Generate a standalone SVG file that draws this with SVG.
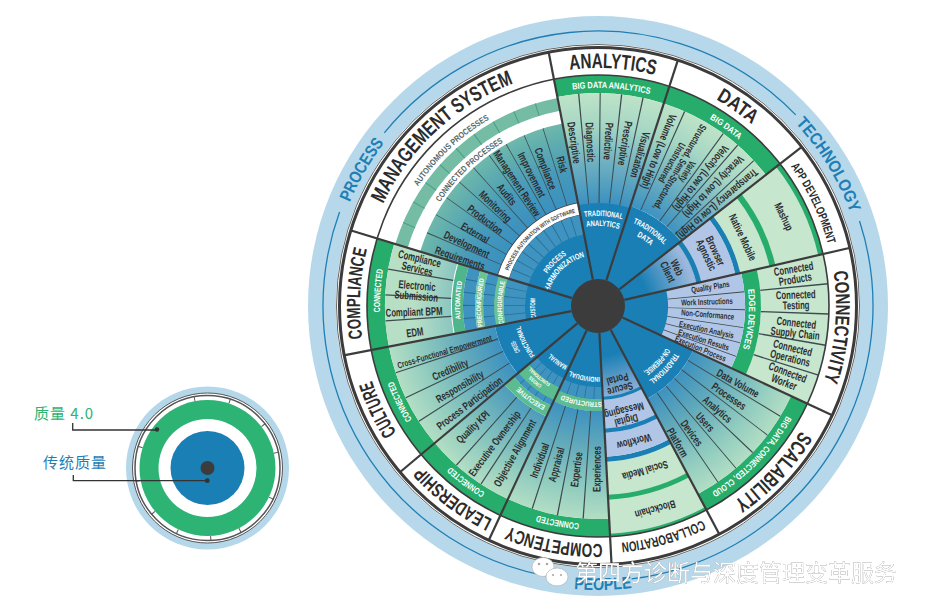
<svg xmlns="http://www.w3.org/2000/svg" width="926" height="614" viewBox="0 0 926 614">
<style>
text{font-family:"Liberation Sans",sans-serif;font-weight:700}
.s{fill:none}
.t{fill:none;stroke:#3d4b50}
.ti{fill:none;stroke:#2a6f93}
.n{font-size:11px;fill:#2d2d2d;text-anchor:middle}
.b{font-size:11.500px;fill:#2d2d2d;text-anchor:middle}
.m{font-size:8.500px;fill:#2d2d2d;text-anchor:middle}
.o{fill:#2b2b2b;text-anchor:middle}
.g{font-size:9px;fill:#fff;text-anchor:middle}
.w{font-size:8px;fill:#fff;text-anchor:middle}
.x{font-size:7px;fill:#fff;text-anchor:middle}
.p{font-size:17px;fill:#1f7fb5;text-anchor:middle}
.q{font-size:8.500px;fill:#56686b;text-anchor:middle}
.cjk{font-family:"Noto Sans CJK SC",sans-serif;font-weight:400}
.spoke{stroke:#3c3c3c;stroke-width:2.200;fill:none}
.lead{stroke:#333;stroke-width:1.300;fill:none}
</style>
<defs>
<radialGradient id="gA" gradientUnits="userSpaceOnUse" cx="0" cy="0" r="231"><stop offset=".45" stop-color="#3d92c1"/><stop offset=".62" stop-color="#6fb0c0"/><stop offset=".78" stop-color="#a5d6c4"/><stop offset=".93" stop-color="#bfe4c8"/></radialGradient>
<radialGradient id="gM" gradientUnits="userSpaceOnUse" cx="0" cy="0" r="231"><stop offset=".45" stop-color="#3a90c0"/><stop offset=".6" stop-color="#479ab9"/><stop offset=".8" stop-color="#6db7ab"/></radialGradient>
<radialGradient id="gL" gradientUnits="userSpaceOnUse" cx="0" cy="0" r="231"><stop offset=".45" stop-color="#3c91c0"/><stop offset=".6" stop-color="#5fa8bb"/><stop offset=".8" stop-color="#93cdbf"/><stop offset=".93" stop-color="#b5dfc5"/></radialGradient>
<radialGradient id="gC" gradientUnits="userSpaceOnUse" cx="0" cy="0" r="231"><stop offset=".64" stop-color="#8cc7c0"/><stop offset=".8" stop-color="#b7dfc5"/></radialGradient>
<radialGradient id="gP" gradientUnits="userSpaceOnUse" cx="0" cy="0" r="101"><stop offset=".5" stop-color="#1a7fb5"/><stop offset=".97" stop-color="#9db8dc"/></radialGradient>
<path id="r284" d="M0-284A284 284 0 1 0 0 284A284 284 0 1 0 0-284"/>
<path id="r269" d="M0 269A269 269 0 1 1 0-269A269 269 0 1 1 0 269"/>
<path id="r238" d="M0 238A238 238 0 1 1 0-238A238 238 0 1 1 0 238"/>
<path id="r218" d="M0 218A218 218 0 1 1 0-218A218 218 0 1 1 0 218"/>
<path id="r216" d="M0 216A216 216 0 1 1 0-216A216 216 0 1 1 0 216"/>
<path id="r189" d="M0 189A189 189 0 1 1 0-189A189 189 0 1 1 0 189"/>
<path id="r151" d="M0 151A151 151 0 1 1 0-151A151 151 0 1 1 0 151"/>
<path id="r138" d="M0 138A138 138 0 1 1 0-138A138 138 0 1 1 0 138"/>
<path id="r117" d="M0 117A117 117 0 1 1 0-117A117 117 0 1 1 0 117"/>
<path id="r113" d="M0 113A113 113 0 1 1 0-113A113 113 0 1 1 0 113"/>
<path id="r97" d="M0 97A97 97 0 1 1 0-97A97 97 0 1 1 0 97"/>
<path id="r96" d="M0 96A96 96 0 1 1 0-96A96 96 0 1 1 0 96"/>
<path id="r91" d="M0 91A91 91 0 1 1 0-91A91 91 0 1 1 0 91"/>
<path id="r90" d="M0 90A90 90 0 1 1 0-90A90 90 0 1 1 0 90"/>
<path id="r80" d="M0 80A80 80 0 1 1 0-80A80 80 0 1 1 0 80"/>
<path id="r71" d="M0 71A71 71 0 1 1 0-71A71 71 0 1 1 0 71"/>
<path id="r67" d="M0 67A67 67 0 1 1 0-67A67 67 0 1 1 0 67"/>
<path id="r63" d="M0 63A63 63 0 1 1 0-63A63 63 0 1 1 0 63"/>
<path id="r60" d="M0 60A60 60 0 1 1 0-60A60 60 0 1 1 0 60"/>
<path id="r51" d="M0 51A51 51 0 1 1 0-51A51 51 0 1 1 0 51"/>
</defs>

<rect width="926" height="614" fill="#fff"/>

<g id="legend-wheel" transform="translate(207.500 468)">
<circle r="81.500" fill="#b5d7ea"/>
<circle r="75" fill="#fff" stroke="#555" stroke-width="1"/>
<circle r="72.500" class="s" stroke="#555" stroke-width="1.500"/>
<circle r="70.500" class="s" stroke="#555" stroke-width="5" pathLength="360" stroke-dasharray=".8 28.200 .8 33.200 .8 24.200 .8 37.200 .8 36.200 .8 24.200 .8 27.200 .8 24.200 .8 28.200 .8 27.200 .8 360" transform="rotate(-101)"/>
<circle r="68" fill="#2db374"/>
<circle r="49" fill="#fff"/>
<circle r="37" fill="#1a7fb5"/>
<circle r="7" fill="#3c3c3c"/>
</g>
<g id="legend-labels">
<text x="34" y="419" class="cjk" font-size="15" fill="#2db374" letter-spacing="1">质量 4.0</text>
<text x="43" y="468" class="cjk" font-size="15" fill="#1f7fb5" letter-spacing="1">传统质量</text>
</g>

<g transform="translate(598 306)">
<g id="frame">
<circle r="290" fill="#b7d8ea"/>
<circle r="262" fill="#fff"/>
<circle r="275" class="s" stroke="#1f7fb5" stroke-width="1.300" pathLength="360" stroke-dasharray="97 263" transform="rotate(219)"/>
<circle r="275" class="s" stroke="#1f7fb5" stroke-width="1.300" pathLength="360" stroke-dasharray="101 259" transform="rotate(-18)"/>
<circle r="275" class="s" stroke="#1f7fb5" stroke-width="1.300" pathLength="360" stroke-dasharray="99 261" transform="rotate(101)"/>
<text class="p" transform="rotate(300)"><textPath href="#r269" startOffset="50%" textLength="69" lengthAdjust="spacingAndGlyphs">PROCESS</textPath></text>
<text class="p" transform="rotate(58.500)"><textPath href="#r269" startOffset="50%" textLength="106" lengthAdjust="spacingAndGlyphs">TECHNOLOGY</textPath></text>
<text class="p" transform="rotate(-1)"><textPath href="#r284" startOffset="50%" textLength="58" lengthAdjust="spacingAndGlyphs">PEOPLE</textPath></text>
<circle r="105" fill="#1a7fb5"/>
</g>

<g id="analytics">
<circle class="s" r="222" stroke="#27ad6b" stroke-width="18" pathLength="360" stroke-dasharray="29 331" transform="rotate(-101)"/>
<circle class="s" r="158" stroke="url(#gA)" stroke-width="110" pathLength="360" stroke-dasharray="29 331" transform="rotate(-101)"/>
<circle class="t" r="158" stroke-width="110" pathLength="360" stroke-dasharray="0 5.600 .4 5.400 .4 5.400 .4 5.400 .4 360" transform="rotate(-101)"/>
<text class="o" font-size="21" transform="rotate(3.500)"><textPath href="#r238" startOffset="50%" textLength="86" lengthAdjust="spacingAndGlyphs">ANALYTICS</textPath></text>
<text class="g" transform="rotate(3.500)"><textPath href="#r218" startOffset="50%" textLength="78" lengthAdjust="spacingAndGlyphs">BIG DATA ANALYTICS</textPath></text>
<text class="n" y="3.500" transform="rotate(-8.400) translate(0 -165) rotate(90) scale(.71 1)">Descriptive</text>
<text class="n" y="3.500" transform="rotate(-2.800) translate(0 -164) rotate(90) scale(.71 1)">Diagnostic</text>
<text class="n" y="3.500" transform="rotate(3.500) translate(0 -165) rotate(90) scale(.71 1)">Predictive</text>
<text class="n" y="3.500" transform="rotate(9.400) translate(0 -165) rotate(90) scale(.71 1)">Prescriptive</text>
<text class="n" y="3.500" transform="rotate(15.500) translate(0 -157) rotate(90) scale(.71 1)">Visualization</text>
<text class="w" transform="rotate(3.500)"><textPath href="#r90" startOffset="50%" textLength="38" lengthAdjust="spacingAndGlyphs">TRADITIONAL</textPath></text>
<text class="w" transform="rotate(3.500)"><textPath href="#r80" startOffset="50%" textLength="33" lengthAdjust="spacingAndGlyphs">ANALYTICS</textPath></text>
</g>

<g id="data">
<circle class="s" r="222" stroke="#27ad6b" stroke-width="18" pathLength="360" stroke-dasharray="34 326" transform="rotate(-72)"/>
<circle class="s" r="159" stroke="url(#gA)" stroke-width="108" pathLength="360" stroke-dasharray="34 326" transform="rotate(-72)"/>
<circle class="t" r="159" stroke-width="108" pathLength="360" stroke-dasharray="0 5.800 .4 11.600 .4 4.600 .4 5.600 .4 360" transform="rotate(-72)"/>
<text class="o" font-size="20" transform="rotate(35)"><textPath href="#r238" startOffset="50%" textLength="44" lengthAdjust="spacingAndGlyphs">DATA</textPath></text>
<text class="g" transform="rotate(35.500)"><textPath href="#r218" startOffset="50%" textLength="36" lengthAdjust="spacingAndGlyphs">BIG DATA</textPath></text>
<text class="n" y="3.500" transform="rotate(21.400) translate(0 -166) rotate(90) scale(.71 1)">Volume (Low to High)</text>
<text class="n" style="font-size:10px" transform="rotate(30) translate(0 -161) rotate(90) scale(.71 1)"><tspan x="0" y="-7">Variety</tspan><tspan x="0" y="2">Structured, Semi-Structured,</tspan><tspan x="0" y="11">Unstructured</tspan></text>
<text class="n" y="3.500" transform="rotate(38.800) translate(0 -164) rotate(90) scale(.71 1)">Velocity (Low to High)</text>
<text class="n" y="3.500" transform="rotate(44) translate(0 -166) rotate(90) scale(.71 1)">Veracity (Low to High)</text>
<text class="n" y="3.500" transform="rotate(49.500) translate(0 -157) rotate(90) scale(.71 1)">Transparency (Low to High)</text>
<text class="w" transform="rotate(35)"><textPath href="#r90" startOffset="50%" textLength="38" lengthAdjust="spacingAndGlyphs">TRADITIONAL</textPath></text>
<text class="w" transform="rotate(35)"><textPath href="#r80" startOffset="50%" textLength="17" lengthAdjust="spacingAndGlyphs">DATA</textPath></text>
</g>

<g id="app-development">
<circle class="s" r="166" stroke="#c6e6cd" stroke-width="130" pathLength="360" stroke-dasharray="25 335" transform="rotate(-38)"/>
<circle class="s" r="228.500" stroke="#27ad6b" stroke-width="5" pathLength="360" stroke-dasharray="25 335" transform="rotate(-38)"/>
<circle class="s" r="179" stroke="#27ad6b" stroke-width="6" pathLength="360" stroke-dasharray="25 335" transform="rotate(-38)"/>
<circle class="s" r="143.500" stroke="#1a7fb5" stroke-width="5" pathLength="360" stroke-dasharray="25 335" transform="rotate(-38)"/>
<circle class="s" r="123.500" stroke="#b1c6e6" stroke-width="35" pathLength="360" stroke-dasharray="25 335" transform="rotate(-38)"/>
<circle class="s" r="103.500" stroke="#1a7fb5" stroke-width="5" pathLength="360" stroke-dasharray="25 335" transform="rotate(-38)"/>
<circle class="s" r="64" stroke="url(#gP)" stroke-width="74" pathLength="360" stroke-dasharray="25 335" transform="rotate(-38)"/>
<text class="o" font-size="12" transform="rotate(64.500)"><textPath href="#r238" startOffset="50%" textLength="87" lengthAdjust="spacingAndGlyphs">APP DEVELOPMENT</textPath></text>
<text class="n" y="3.500" transform="rotate(64.300) translate(0 -206) scale(.71 1)">Mashup</text>
<text class="n" y="3.500" transform="rotate(64.600) translate(0 -160) scale(.71 1)">Native Mobile</text>
<text class="n" transform="rotate(64.800) translate(0 -124) scale(.71 1)"><tspan x="0" y="-2">Browser</tspan><tspan x="0" y="8">Agnostic</tspan></text>
<text class="n" transform="rotate(64) translate(0 -82) scale(.71 1)"><tspan x="0" y="-2">Web</tspan><tspan x="0" y="8">Client</tspan></text>
</g>

<g id="connectivity">
<circle class="s" r="197" stroke="#c6e6cd" stroke-width="68" pathLength="360" stroke-dasharray="38 322" transform="rotate(-13)"/>
<circle class="t" r="197" stroke-width="68" pathLength="360" stroke-dasharray="0 7.300 .4 7.100 .4 7.400 .4 7.200 .4 360" transform="rotate(-13)"/>
<circle class="s" r="155" stroke="#27ad6b" stroke-width="16" pathLength="360" stroke-dasharray="38 322" transform="rotate(-13)"/>
<circle class="s" r="108.500" stroke="#b1c6e6" stroke-width="77" pathLength="360" stroke-dasharray="38 322" transform="rotate(-13)"/>
<circle class="t" r="108.500" stroke-width="77" pathLength="360" stroke-dasharray="0 7.300 .4 6.600 .4 6.600 .4 5.600 .4 5.100 .4 360" transform="rotate(-13)"/>
<text class="o" font-size="20" transform="rotate(95)"><textPath href="#r238" startOffset="50%" textLength="111" lengthAdjust="spacingAndGlyphs">CONNECTIVITY</textPath></text>
<text class="g" transform="rotate(95)"><textPath href="#r151" startOffset="50%" textLength="60" lengthAdjust="spacingAndGlyphs">EDGE DEVICES</textPath></text>
<text class="b" transform="rotate(80.800) translate(0 -199) rotate(-90) scale(.67 1)"><tspan x="0" y="-1.500">Connected</tspan><tspan x="0" y="9">Products</tspan></text>
<text class="b" transform="rotate(88.300) translate(0 -198) rotate(-90) scale(.67 1)"><tspan x="0" y="-1.500">Connected</tspan><tspan x="0" y="9">Testing</tspan></text>
<text class="b" transform="rotate(96.400) translate(0 -199) rotate(-90) scale(.67 1)"><tspan x="0" y="-1.500">Connected</tspan><tspan x="0" y="9">Supply Chain</tspan></text>
<text class="b" transform="rotate(103.700) translate(0 -199) rotate(-90) scale(.67 1)"><tspan x="0" y="-1.500">Connected</tspan><tspan x="0" y="9">Operations</tspan></text>
<text class="b" transform="rotate(110.800) translate(0 -201) rotate(-90) scale(.67 1)"><tspan x="0" y="-1.500">Connected</tspan><tspan x="0" y="9">Worker</tspan></text>
<text class="m" y="2.500" transform="rotate(80.600) translate(0 -114) rotate(-90) scale(.72 1)">Quality Plans</text>
<text class="m" y="2.500" transform="rotate(88) translate(0 -109) rotate(-90) scale(.72 1)">Work Instructions</text>
<text class="m" y="2.500" transform="rotate(94.700) translate(0 -110) rotate(-90) scale(.72 1)">Non-Conformance</text>
<text class="m" y="2.500" transform="rotate(102.500) translate(0 -111) rotate(-90) scale(.72 1)">Execution Analysis</text>
<text class="m" y="2.500" transform="rotate(108) translate(0 -111) rotate(-90) scale(.72 1)">Execution Results</text>
<text class="m" y="2.500" transform="rotate(112.800) translate(0 -111) rotate(-90) scale(.72 1)">Execution Process</text>
</g>

<g id="scalability">
<circle class="s" r="222" stroke="#27ad6b" stroke-width="18" pathLength="360" stroke-dasharray="37 323" transform="rotate(25)"/>
<circle class="s" r="159" stroke="url(#gL)" stroke-width="108" pathLength="360" stroke-dasharray="37 323" transform="rotate(25)"/>
<circle class="t" r="159" stroke-width="108" pathLength="360" stroke-dasharray="0 6 .35 5.800 .35 5.800 .35 5.800 .35 5.800 .35 360" transform="rotate(25)"/>
<text class="o" font-size="21" transform="rotate(133.400)"><textPath href="#r238" startOffset="50%" textLength="98" lengthAdjust="spacingAndGlyphs">SCALABILITY</textPath></text>
<text class="g" transform="rotate(134.400)"><textPath href="#r218" startOffset="50%" textLength="108" lengthAdjust="spacingAndGlyphs">BIG DATA, CONNECTED, CLOUD</textPath></text>
<text class="n" y="3.500" transform="rotate(119) translate(0 -160) rotate(-90) scale(.71 1)">Data Volume</text>
<text class="n" y="3.500" transform="rotate(124.700) translate(0 -159) rotate(-90) scale(.71 1)">Processes</text>
<text class="n" y="3.500" transform="rotate(131) translate(0 -158) rotate(-90) scale(.71 1)">Analytics</text>
<text class="n" y="3.500" transform="rotate(137.400) translate(0 -158) rotate(-90) scale(.71 1)">Users</text>
<text class="n" y="3.500" transform="rotate(143.700) translate(0 -158) rotate(-90) scale(.71 1)">Devices</text>
<text class="n" y="3.500" transform="rotate(149.900) translate(0 -158) rotate(-90) scale(.71 1)">Platform</text>
<text class="w" transform="rotate(133.500)"><textPath href="#r90" startOffset="50%" textLength="38" lengthAdjust="spacingAndGlyphs">TRADITIONAL</textPath></text>
<text class="w" transform="rotate(133.500)"><textPath href="#r80" startOffset="50%" textLength="33" lengthAdjust="spacingAndGlyphs">ON-PREMISE,</textPath></text>
</g>

<g id="collaboration">
<circle class="s" r="193" stroke="#c6e6cd" stroke-width="76" pathLength="360" stroke-dasharray="25 335" transform="rotate(62)"/>
<circle class="s" r="229.500" stroke="#27ad6b" stroke-width="3" pathLength="360" stroke-dasharray="25 335" transform="rotate(62)"/>
<circle class="s" r="191.500" stroke="#27ad6b" stroke-width="5" pathLength="360" stroke-dasharray="25 335" transform="rotate(62)"/>
<circle class="s" r="153.500" stroke="#1a7fb5" stroke-width="5" pathLength="360" stroke-dasharray="25 335" transform="rotate(62)"/>
<circle class="s" r="122" stroke="#b1c6e6" stroke-width="58" pathLength="360" stroke-dasharray="25 335" transform="rotate(62)"/>
<circle class="s" r="125" stroke="#1a7fb5" stroke-width="4" pathLength="360" stroke-dasharray="25 335" transform="rotate(62)"/>
<circle class="s" r="92.500" stroke="#1a7fb5" stroke-width="3" pathLength="360" stroke-dasharray="25 335" transform="rotate(62)"/>
<circle class="s" r="59" stroke="url(#gP)" stroke-width="64" pathLength="360" stroke-dasharray="25 335" transform="rotate(62)"/>
<text class="o" font-size="14" transform="rotate(164.200)"><textPath href="#r238" startOffset="50%" textLength="85" lengthAdjust="spacingAndGlyphs">COLLABORATION</textPath></text>
<text class="n" y="3.500" transform="rotate(164.300) translate(0 -211) scale(.71 1)">Blockchain</text>
<text class="n" y="3.500" transform="rotate(164) translate(0 -171) scale(.71 1)">Social Media</text>
<text class="n" y="3.500" transform="rotate(165.100) translate(0 -140) scale(.71 1)">Workflow</text>
<text class="n" transform="rotate(166) translate(0 -112) scale(.71 1)"><tspan x="0" y="-2">Digital</tspan><tspan x="0" y="8">Messaging</tspan></text>
<text class="n" transform="rotate(165) translate(0 -80) scale(.71 1)"><tspan x="0" y="-2">Secure</tspan><tspan x="0" y="8">Portal</tspan></text>
</g>

<g id="competency">
<circle class="s" r="222" stroke="#27ad6b" stroke-width="18" pathLength="360" stroke-dasharray="28 332" transform="rotate(87)"/>
<circle class="s" r="159" stroke="url(#gL)" stroke-width="108" pathLength="360" stroke-dasharray="28 332" transform="rotate(87)"/>
<circle class="t" r="159" stroke-width="108" pathLength="360" stroke-dasharray="0 6.800 .4 6.600 .4 6.600 .4 360" transform="rotate(87)"/>
<circle class="s" r="99" stroke="#5bbd8f" stroke-width="12" pathLength="360" stroke-dasharray="28 332" transform="rotate(87)"/>
<circle class="s" r="87" stroke="#3f93c1" stroke-width="12" pathLength="360" stroke-dasharray="28 332" transform="rotate(87)"/>
<circle class="ti" r="87" stroke-width="12" pathLength="360" stroke-dasharray="0 5.400 .5 5.100 .5 5.100 .5 5.100 .5 360" transform="rotate(87)"/>
<text class="o" font-size="19" transform="rotate(190.500)"><textPath href="#r238" startOffset="50%" textLength="96" lengthAdjust="spacingAndGlyphs">COMPETENCY</textPath></text>
<text class="g" transform="rotate(190.600)"><textPath href="#r218" startOffset="50%" textLength="43" lengthAdjust="spacingAndGlyphs">CONNECTED</textPath></text>
<text class="n" y="3.500" transform="rotate(200.600) translate(0 -165) rotate(90) scale(.71 1)">Individual</text>
<text class="n" y="3.500" transform="rotate(194.600) translate(0 -164) rotate(90) scale(.71 1)">Appraisal</text>
<text class="n" y="3.500" transform="rotate(187.400) translate(0 -165) rotate(90) scale(.71 1)">Expertise</text>
<text class="n" y="3.500" transform="rotate(180.300) translate(0 -163) rotate(90) scale(.71 1)">Experiences</text>
<text class="x" transform="rotate(190)"><textPath href="#r96" startOffset="50%" textLength="41" lengthAdjust="spacingAndGlyphs">STRUCTURED</textPath></text>
<text class="x" transform="rotate(191)"><textPath href="#r71" startOffset="50%" textLength="31" lengthAdjust="spacingAndGlyphs">INDIVIDUAL</textPath></text>
</g>

<g id="leadership">
<circle class="s" r="222" stroke="#27ad6b" stroke-width="18" pathLength="360" stroke-dasharray="25 335" transform="rotate(115)"/>
<circle class="s" r="167.500" stroke="url(#gL)" stroke-width="91" pathLength="360" stroke-dasharray="25 335" transform="rotate(115)"/>
<circle class="t" r="167.500" stroke-width="91" pathLength="360" stroke-dasharray="0 8.130 .4 7.930 .4 360" transform="rotate(115)"/>
<circle class="s" r="116" stroke="#5bbd8f" stroke-width="12" pathLength="360" stroke-dasharray="25 335" transform="rotate(115)"/>
<circle class="s" r="107" stroke="#3f93c1" stroke-width="6" pathLength="360" stroke-dasharray="25 335" transform="rotate(115)"/>
<circle class="ti" r="107" stroke-width="6" pathLength="360" stroke-dasharray="0 4.800 .4 4.600 .4 4.600 .4 4.600 .4 360" transform="rotate(115)"/>
<circle class="s" r="97" stroke="#5bbd8f" stroke-width="14" pathLength="360" stroke-dasharray="25 335" transform="rotate(115)"/>
<circle class="s" r="85" stroke="#3f93c1" stroke-width="10" pathLength="360" stroke-dasharray="25 335" transform="rotate(115)"/>
<circle class="ti" r="85" stroke-width="10" pathLength="360" stroke-dasharray="0 4.800 .4 4.600 .4 4.600 .4 4.600 .4 360" transform="rotate(115)"/>
<text class="o" font-size="19" transform="rotate(217)"><textPath href="#r238" startOffset="50%" textLength="89" lengthAdjust="spacingAndGlyphs">LEADERSHIP</textPath></text>
<text class="g" transform="rotate(216.900)"><textPath href="#r218" startOffset="50%" textLength="43" lengthAdjust="spacingAndGlyphs">CONNECTED</textPath></text>
<text class="n" y="3.500" transform="rotate(225.900) translate(0 -174) rotate(90) scale(.71 1)">Quality KPI</text>
<text class="n" y="3.500" transform="rotate(216.900) translate(0 -172) rotate(90) scale(.71 1)">Executive Ownership</text>
<text class="n" y="3.500" transform="rotate(209.400) translate(0 -169) rotate(90) scale(.71 1)">Objective Alignment</text>
<text class="x" transform="rotate(216)"><textPath href="#r113" startOffset="50%" textLength="33" lengthAdjust="spacingAndGlyphs">EXECUTIVE</textPath></text>
<text class="x" style="font-size:5px" transform="rotate(219.600)"><textPath href="#r97" startOffset="50%" textLength="15" lengthAdjust="spacingAndGlyphs">CROSS</textPath></text>
<text class="x" style="font-size:5px" transform="rotate(219.600)"><textPath href="#r91" startOffset="50%" textLength="26" lengthAdjust="spacingAndGlyphs">FUNCTIONAL</textPath></text>
<text class="x" transform="rotate(216)"><textPath href="#r67" startOffset="50%" textLength="21" lengthAdjust="spacingAndGlyphs">MANUAL</textPath></text>
</g>

<g id="culture">
<circle class="s" r="222" stroke="#27ad6b" stroke-width="18" pathLength="360" stroke-dasharray="29 331" transform="rotate(140)"/>
<circle class="s" r="159" stroke="url(#gL)" stroke-width="108" pathLength="360" stroke-dasharray="29 331" transform="rotate(140)"/>
<circle class="t" r="159" stroke-width="108" pathLength="360" stroke-dasharray="0 7.050 .4 6.850 .4 6.850 .4 360" transform="rotate(140)"/>
<text class="o" font-size="20" transform="rotate(244.800)"><textPath href="#r238" startOffset="50%" textLength="58" lengthAdjust="spacingAndGlyphs">CULTURE</textPath></text>
<text class="g" transform="rotate(244.200)"><textPath href="#r218" startOffset="50%" textLength="43" lengthAdjust="spacingAndGlyphs">CONNECTED</textPath></text>
<text class="n" style="font-size:9px" y="3" transform="rotate(253.400) translate(0 -160) rotate(90) scale(.71 1)">Cross-Functional Empowerment</text>
<text class="n" y="3.500" transform="rotate(246.600) translate(0 -161) rotate(90) scale(.71 1)">Credibility</text>
<text class="n" y="3.500" transform="rotate(239.700) translate(0 -160) rotate(90) scale(.71 1)">Responsibility</text>
<text class="n" y="3.500" transform="rotate(232.800) translate(0 -161) rotate(90) scale(.71 1)">Process Participation</text>
<text class="x" transform="rotate(243.800)"><textPath href="#r90" startOffset="50%" textLength="13" lengthAdjust="spacingAndGlyphs">CROSS-</textPath></text>
<text class="x" transform="rotate(243.800)"><textPath href="#r80" startOffset="50%" textLength="33" lengthAdjust="spacingAndGlyphs">FUNCTIONAL</textPath></text>
</g>

<g id="compliance">
<circle class="s" r="222" stroke="#27ad6b" stroke-width="18" pathLength="360" stroke-dasharray="28 332" transform="rotate(169)"/>
<circle class="s" r="180" stroke="url(#gC)" stroke-width="66" pathLength="360" stroke-dasharray="28 332" transform="rotate(169)"/>
<circle class="t" r="180" stroke-width="66" pathLength="360" stroke-dasharray="0 6.800 .4 6.600 .4 6.600 .4 360" transform="rotate(169)"/>
<circle class="s" r="140.500" stroke="#4fb58a" stroke-width="11" pathLength="360" stroke-dasharray="28 332" transform="rotate(169)"/>
<circle class="s" r="129" stroke="#3f93c1" stroke-width="12" pathLength="360" stroke-dasharray="28 332" transform="rotate(169)"/>
<circle class="ti" r="129" stroke-width="12" pathLength="360" stroke-dasharray="0 5.400 .5 5.100 .5 5.100 .5 5.100 .5 360" transform="rotate(169)"/>
<circle class="s" r="119" stroke="#6cc195" stroke-width="8" pathLength="360" stroke-dasharray="28 332" transform="rotate(169)"/>
<circle class="s" r="109.500" stroke="#3f93c1" stroke-width="11" pathLength="360" stroke-dasharray="28 332" transform="rotate(169)"/>
<circle class="ti" r="109.500" stroke-width="11" pathLength="360" stroke-dasharray="0 5.400 .5 5.100 .5 5.100 .5 5.100 .5 360" transform="rotate(169)"/>
<circle class="s" r="99" stroke="#6cc195" stroke-width="10" pathLength="360" stroke-dasharray="28 332" transform="rotate(169)"/>
<circle class="s" r="83.500" stroke="#3f93c1" stroke-width="21" pathLength="360" stroke-dasharray="28 332" transform="rotate(169)"/>
<circle class="ti" r="83.500" stroke-width="21" pathLength="360" stroke-dasharray="0 5.400 .5 5.100 .5 5.100 .5 5.100 .5 360" transform="rotate(169)"/>
<text class="o" font-size="19" transform="rotate(273)"><textPath href="#r238" startOffset="50%" textLength="90" lengthAdjust="spacingAndGlyphs">COMPLIANCE</textPath></text>
<text class="g" transform="rotate(274)"><textPath href="#r218" startOffset="50%" textLength="43" lengthAdjust="spacingAndGlyphs">CONNECTED</textPath></text>
<text class="b" transform="rotate(283.200) translate(0 -184.500) rotate(90) scale(.67 1)"><tspan x="0" y="-1.500">Compliance</tspan><tspan x="0" y="9">Services</tspan></text>
<text class="b" transform="rotate(274.700) translate(0 -182) rotate(90) scale(.67 1)"><tspan x="0" y="-1.500">Electronic</tspan><tspan x="0" y="9">Submission</tspan></text>
<text class="b" y="4" transform="rotate(268.200) translate(0 -184) rotate(90) scale(.67 1)">Compliant BPM</text>
<text class="b" y="4" transform="rotate(261.800) translate(0 -185) rotate(90) scale(.67 1)">EDM</text>
<text class="x" transform="rotate(272.400)"><textPath href="#r138" startOffset="50%" textLength="38" lengthAdjust="spacingAndGlyphs">AUTOMATED</textPath></text>
<text class="x" style="font-size:6.700px" transform="rotate(271.700)"><textPath href="#r117" startOffset="50%" textLength="48" lengthAdjust="spacingAndGlyphs">PRECONFIGURED</textPath></text>
<text class="x" style="font-size:6.600px" transform="rotate(272)"><textPath href="#r96" startOffset="50%" textLength="43" lengthAdjust="spacingAndGlyphs">CONFIGURABLE</textPath></text>
<text class="x" transform="rotate(268)"><textPath href="#r63" startOffset="50%" textLength="20" lengthAdjust="spacingAndGlyphs">CUSTOM</textPath></text>
</g>

<g id="management-system">
<circle class="s" r="205.500" stroke="#74bda4" stroke-width="13" pathLength="360" stroke-dasharray="62 298" transform="rotate(197)"/>
<circle class="ti" r="205.500" stroke-width="13" style="stroke:#4f9d88" pathLength="360" stroke-dasharray="0 6.050 .3 5.900 .3 5.900 .3 5.900 .3 5.900 .3 5.900 .3 5.900 .3 5.900 .3 5.900 .3 360" transform="rotate(197)"/>
<circle class="s" r="145.500" stroke="url(#gM)" stroke-width="81" pathLength="360" stroke-dasharray="62 298" transform="rotate(197)"/>
<circle class="t" r="145.500" stroke-width="81" pathLength="360" stroke-dasharray="0 6.050 .3 5.900 .3 5.900 .3 5.900 .3 5.900 .3 5.900 .3 5.900 .3 5.900 .3 5.900 .3 360" transform="rotate(197)"/>
<circle class="s" r="99" stroke="#3c3c3c" stroke-width="13" pathLength="360" stroke-dasharray="62 298" transform="rotate(197)"/>
<circle class="s" r="99" stroke="#fff" stroke-width="11.500" pathLength="360" stroke-dasharray="62 298" transform="rotate(197)"/>
<circle class="s" r="83" stroke="#3f93c1" stroke-width="20" pathLength="360" stroke-dasharray="62 298" transform="rotate(197)"/>
<circle class="ti" r="83" stroke-width="20" pathLength="360" stroke-dasharray="0 5.900 .6 5.600 .6 5.600 .6 5.600 .6 5.600 .6 5.600 .6 5.600 .6 5.600 .6 5.600 .6 360" transform="rotate(197)"/>
<text class="o" font-size="21" transform="rotate(317.300)"><textPath href="#r238" startOffset="50%" textLength="182" lengthAdjust="spacingAndGlyphs">MANAGEMENT SYSTEM</textPath></text>
<text class="q" transform="rotate(316.700)"><textPath href="#r216" startOffset="50%" textLength="99" lengthAdjust="spacingAndGlyphs">AUTONOMOUS PROCESSES</textPath></text>
<text class="q" transform="rotate(316.600)"><textPath href="#r189" startOffset="50%" textLength="88" lengthAdjust="spacingAndGlyphs">CONNECTED PROCESSES</textPath></text>
<text class="n" y="3.500" transform="rotate(-14.400) translate(0 -146) rotate(90) scale(.71 1)">Risk</text>
<text class="n" y="3.500" transform="rotate(-21) translate(0 -147) rotate(90) scale(.71 1)">Compliance</text>
<text class="n" y="3.500" transform="rotate(-26.900) translate(0 -147) rotate(90) scale(.71 1)">Improvement</text>
<text class="n" y="3.500" transform="rotate(-33.500) translate(0 -147) rotate(90) scale(.71 1)">Management Review</text>
<text class="n" y="3.500" transform="rotate(-39.400) translate(0 -144) rotate(90) scale(.71 1)">Audits</text>
<text class="n" y="3.500" transform="rotate(-46) translate(0 -143) rotate(90) scale(.71 1)">Monitoring</text>
<text class="n" y="3.500" transform="rotate(-52.700) translate(0 -142) rotate(90) scale(.71 1)">Production</text>
<text class="n" y="3.500" transform="rotate(-59.400) translate(0 -143) rotate(90) scale(.71 1)">External</text>
<text class="n" y="3.500" transform="rotate(-65) translate(0 -145) rotate(90) scale(.71 1)">Development</text>
<text class="n" y="3.500" transform="rotate(-71) translate(0 -146) rotate(90) scale(.71 1)">Requirements</text>
<text style="font-size:6px;fill:#444;text-anchor:middle" transform="rotate(319)"><textPath href="#r96" startOffset="50%" textLength="92" lengthAdjust="spacingAndGlyphs">PROCESS AUTOMATION WITH SOFTWARE</textPath></text>
<text class="w" transform="rotate(315.500)"><textPath href="#r60" startOffset="50%" textLength="27" lengthAdjust="spacingAndGlyphs">PROCESS</textPath></text>
<text class="w" transform="rotate(315.500)"><textPath href="#r51" startOffset="50%" textLength="52" lengthAdjust="spacingAndGlyphs">HARMONIZATION</textPath></text>
</g>

<g id="connectors">
<circle r="231" class="s" stroke="#3c3c3c" stroke-width="1.600"/>
<circle r="258.500" class="s" stroke="#3c3c3c" stroke-width="3"/>
<circle r="261.500" class="s" stroke="#666" stroke-width="1"/>
<path class="spoke" d="M0-27V-259" transform="rotate(-11)"/>
<path class="spoke" d="M0-27V-259" transform="rotate(18)"/>
<path class="spoke" d="M0-27V-259" transform="rotate(52)"/>
<path class="spoke" d="M0-27V-259" transform="rotate(77)"/>
<path class="spoke" d="M0-27V-259" transform="rotate(115)"/>
<path class="spoke" d="M0-27V-259" transform="rotate(152)"/>
<path class="spoke" d="M0-27V-259" transform="rotate(177)"/>
<path class="spoke" d="M0-27V-259" transform="rotate(205)"/>
<path class="spoke" d="M0-27V-259" transform="rotate(230)"/>
<path class="spoke" d="M0-27V-259" transform="rotate(259)"/>
<path class="spoke" d="M0-27V-259" transform="rotate(287)"/>
</g>
<circle id="hub" r="27" fill="#3c3c3c"/>
</g>

<g id="legend-connectors">
<path class="lead" d="M72.700 423V430H157"/>
<circle cx="157" cy="429.500" r="2.200" fill="#333"/>
<path class="lead" d="M73.300 475V480.700H207"/>
<circle cx="207.300" cy="480.700" r="2.400" fill="#333"/>
</g>

<g id="watermark">
<ellipse cx="543" cy="567" rx="11" ry="9.500" fill="#fff" stroke="#b5b5b5" stroke-width=".7"/>
<ellipse cx="557" cy="577" rx="11" ry="9" fill="#fff" stroke="#b5b5b5" stroke-width=".7"/>
<circle cx="539" cy="564" r="1.300" fill="#aaa"/>
<circle cx="547" cy="564" r="1.300" fill="#aaa"/>
<circle cx="553" cy="575" r="1.100" fill="#aaa"/>
<circle cx="561" cy="575" r="1.100" fill="#aaa"/>
<text x="575" y="581" class="cjk" font-size="23" fill="#fff" style="filter:drop-shadow(.8px .8px 0 #555)">第四方诊断与深度管理变革服务</text>
</g>
</svg>
